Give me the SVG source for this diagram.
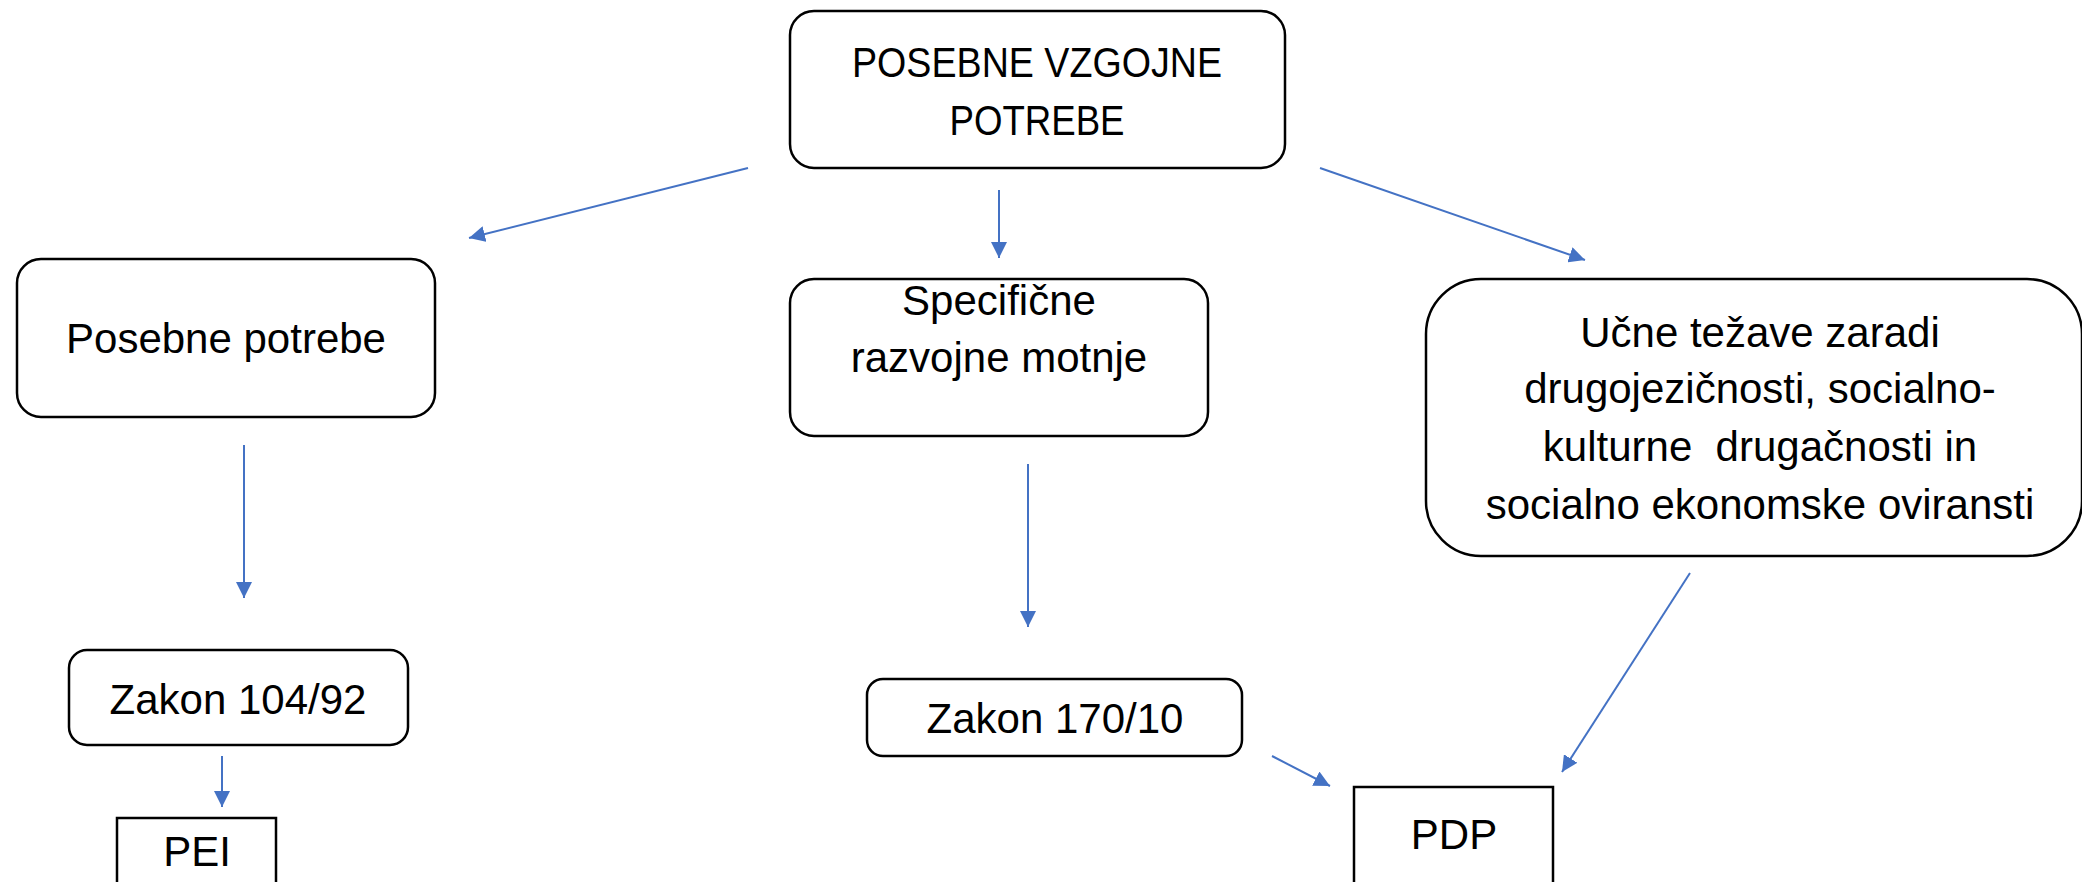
<svg xmlns="http://www.w3.org/2000/svg" width="2082" height="882" viewBox="0 0 2082 882">
<style>
.box{fill:#fff;stroke:#000;stroke-width:2.5}
.t{font-family:"Liberation Sans",Arial,sans-serif;font-size:42px;fill:#000;text-anchor:middle;white-space:pre}
.c{stroke:#4472C4;stroke-width:2;fill:none;marker-end:url(#ah)}
</style>
<defs>
<marker id="ah" markerUnits="userSpaceOnUse" markerWidth="16" markerHeight="16" refX="16" refY="8" orient="auto" viewBox="0 0 16 16">
<path d="M0,0 L16,8 L0,16 z" fill="#4472C4"/>
</marker>
</defs>
<rect width="2082" height="882" fill="#fff"/>
<g id="connectors">
<line class="c" x1="748" y1="168" x2="469" y2="238"/>
<line class="c" x1="999" y1="190" x2="999" y2="258"/>
<line class="c" x1="1320" y1="168" x2="1585" y2="260"/>
<line class="c" x1="244" y1="445" x2="244" y2="598"/>
<line class="c" x1="222" y1="756" x2="222" y2="807"/>
<line class="c" x1="1028" y1="464" x2="1028" y2="627"/>
<line class="c" x1="1272" y1="756" x2="1330" y2="786"/>
<line class="c" x1="1690" y1="573" x2="1562" y2="772"/>
</g>
<g id="posebne-vzgojne-potrebe">
<rect class="box" x="790" y="11" width="495" height="157" rx="24"/>
<text class="t" x="1037" y="77" textLength="370" lengthAdjust="spacingAndGlyphs">POSEBNE VZGOJNE</text>
<text class="t" x="1037" y="135" textLength="175" lengthAdjust="spacingAndGlyphs">POTREBE</text>
</g>
<g id="posebne-potrebe">
<rect class="box" x="17" y="259" width="418" height="158" rx="24"/>
<text class="t" x="226" y="353">Posebne potrebe</text>
</g>
<g id="specificne">
<rect class="box" x="790" y="279" width="418" height="157" rx="24"/>
<text class="t" x="999" y="315">Specifične</text>
<text class="t" x="999" y="372">razvojne motnje</text>
</g>
<g id="ucne-tezave">
<rect class="box" x="1426" y="279" width="656" height="277" rx="55"/>
<text class="t" x="1760" y="347">Učne težave zaradi</text>
<text class="t" x="1760" y="403">drugojezičnosti, socialno-</text>
<text class="t" x="1760" y="461">kulturne  drugačnosti in</text>
<text class="t" x="1760" y="519">socialno ekonomske oviransti</text>
</g>
<g id="zakon-104-92">
<rect class="box" x="69" y="650" width="339" height="95" rx="18"/>
<text class="t" x="238" y="714">Zakon 104/92</text>
</g>
<g id="pei">
<rect class="box" x="117" y="818" width="159" height="80"/>
<text class="t" x="197" y="866">PEI</text>
</g>
<g id="zakon-170-10">
<rect class="box" x="867" y="679" width="375" height="77" rx="16"/>
<text class="t" x="1055" y="733">Zakon 170/10</text>
</g>
<g id="pdp">
<rect class="box" x="1354" y="787" width="199" height="110"/>
<text class="t" x="1454" y="849">PDP</text>
</g>
</svg>
